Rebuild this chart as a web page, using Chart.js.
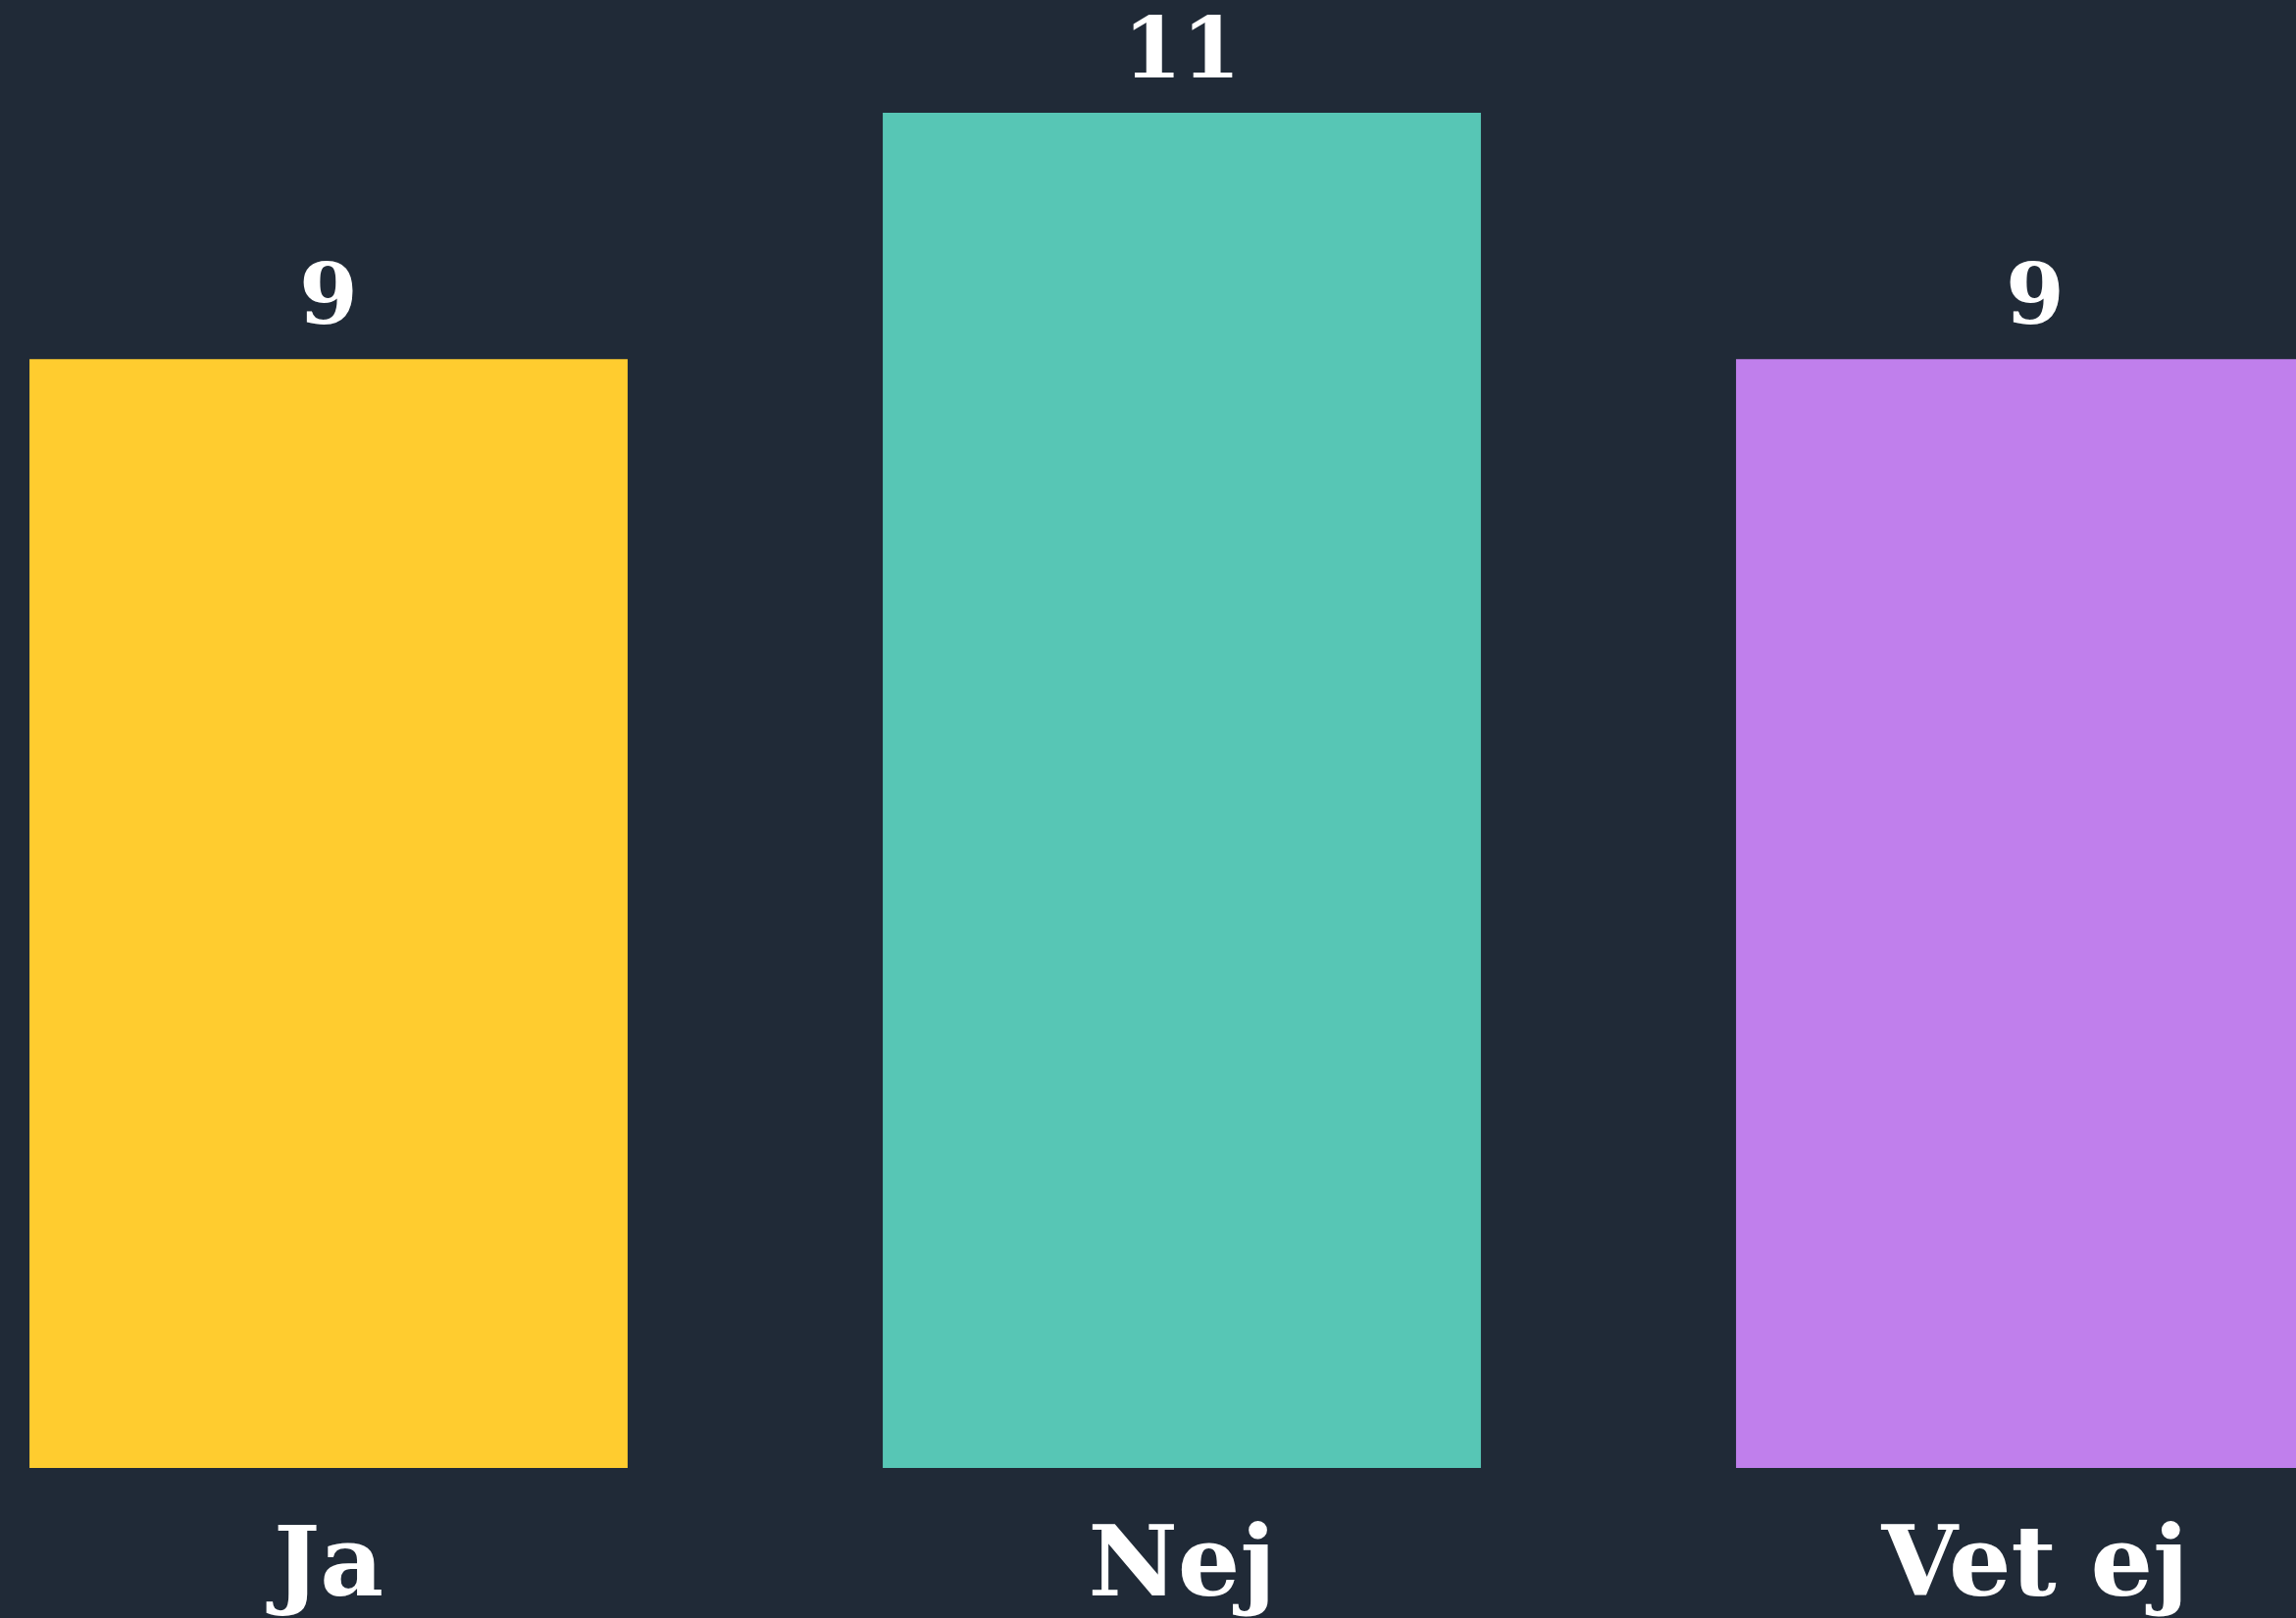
<!DOCTYPE html>
<html>
<head>
<meta charset="utf-8">
<script src="https://cdn.jsdelivr.net/npm/chart.js@4"></script>
<style>
  html, body { margin: 0; padding: 0; background: #202a37; overflow: hidden; }
  body { width: 2341px; height: 1650px; position: relative; }
  /* the chart is wider than the window; the right-hand bar runs off the edge */
  #wrap { position: absolute; left: -100px; top: 0; width: 2610px; height: 1650px; }
</style>
</head>
<body>
<div id="wrap"><canvas id="chart"></canvas></div>
<script>
const categories = ["Ja", "Nej", "Vet ej"];
const counts = [9, 11, 9];
const barColors = ["#ffcc2f", "#57c6b5", "#c07fec"];

// value labels above bars + category labels under them
const labelPlugin = {
    id: "labels",
    afterDatasetsDraw(chart) {
        const ctx = chart.ctx;
        const meta = chart.getDatasetMeta(0);
        const yScale = chart.scales.y;
        ctx.save();
        ctx.fillStyle = "#ffffff";
        ctx.textAlign = "center";
        ctx.textBaseline = "alphabetic";
        meta.data.forEach((bar, i) => {
            ctx.font = "bold 86px 'DejaVu Serif'";
            ctx.fillText(String(counts[i]), bar.x, bar.y - 36);
            ctx.font = "bold 100px 'DejaVu Serif'";
            ctx.fillText(categories[i], bar.x, yScale.getPixelForValue(0) + 130);
        });
        ctx.restore();
    }
};

new Chart(document.getElementById("chart").getContext("2d"), {
    type: "bar",
    data: {
        labels: categories,
        datasets: [{
            data: counts,
            backgroundColor: barColors,
            borderWidth: 0,
            barPercentage: 0.701,
            categoryPercentage: 1.0,
        }]
    },
    options: {
        responsive: true,
        maintainAspectRatio: false,
        animation: false,
        layout: { padding: { top: 115, bottom: 153, left: 0, right: 0 } },
        plugins: {
            legend: { display: false },
            tooltip: { enabled: false }
        },
        scales: {
            x: { display: false },
            y: { display: false, min: 0, max: 11 }
        }
    },
    plugins: [labelPlugin]
});
</script>
</body>
</html>
